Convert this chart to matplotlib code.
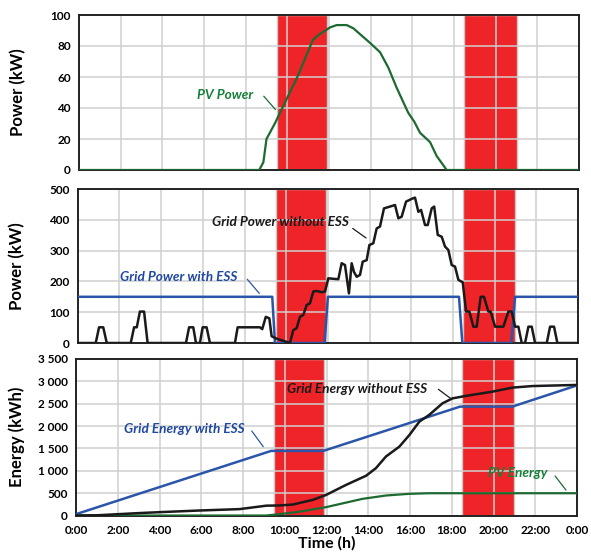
import matplotlib
matplotlib.use('Agg')
import matplotlib.pyplot as plt
from matplotlib.ticker import FuncFormatter, MultipleLocator

plt.rcParams['font.family'] = ['Lato', 'DejaVu Sans']
plt.rcParams['font.weight'] = 'bold'

# peak-shaving windows (hours)
bands = [(9.5, 11.9), (18.5, 21.0)]

# PV power (kW)
pv_t = [0, 8.65, 8.85, 9.0, 9.4, 9.65, 10.48, 11.23, 11.49, 12.05, 12.37, 12.85, 13.17,
        13.97, 14.45, 14.85, 15.25, 15.8, 16.1, 16.37, 16.85, 17.17, 17.65, 24]
pv_kw = [0, 0, 5, 20, 30, 37, 60, 84, 87, 92, 93.5, 93.5, 91.4,
         82, 76, 66, 53, 37, 31, 24, 18, 9, 0, 0]

# grid power with ESS (kW)
ess_t = [0, 9.33, 9.46, 11.84, 12.0, 18.29, 18.45, 20.8, 20.98, 24]
ess_kw = [150, 150, 0, 0, 150, 150, 0, 0, 150, 150]

# grid power without ESS (kW)
noess_t = [0, 0.86, 1.02, 1.22, 1.39, 2.54, 2.70, 2.83, 2.98, 3.18, 3.35,
           5.19, 5.34, 5.54, 5.67, 5.86, 5.99, 6.18, 6.34, 7.54, 7.67, 8.74, 8.85,
           9.02, 9.19, 9.30, 9.51, 10.18, 10.34, 10.50, 10.66, 10.82, 10.98, 11.14,
           11.30, 11.46, 11.70, 11.86, 12.02, 12.50, 12.66, 12.82, 13.01, 13.14,
           13.25, 13.38, 13.54, 13.67, 13.86, 13.99, 14.18, 14.34, 14.50, 14.69,
           14.98, 15.22, 15.38, 15.54, 15.75, 16.02, 16.18, 16.34, 16.47, 16.66,
           16.79, 16.98, 17.10, 17.27, 17.46, 17.62, 17.78, 17.94, 18.10, 18.26,
           18.47, 18.63, 18.79, 18.98, 19.14, 19.33, 19.49, 19.70, 19.81, 20.02,
           20.42, 20.66, 20.82, 20.98, 21.14, 21.30, 21.46, 21.62, 21.78, 21.94,
           22.50, 22.66, 22.85, 23.01, 24]
noess_kw = [0, 0, 51, 51, 0, 0, 51, 51, 102, 102, 0,
            0, 51, 51, 0, 0, 51, 51, 0, 0, 51, 51, 45,
            85, 80, 22, 15, 0, 42, 48, 85, 91, 123, 129,
            167, 169, 165, 167, 210, 207, 259, 253, 161, 259,
            231, 215, 221, 264, 269, 318, 324, 372, 378, 437,
            443, 448, 405, 410, 459, 468, 472, 426, 432, 383,
            383, 437, 443, 351, 345, 313, 302, 253, 248, 205,
            197, 102, 102, 53, 53, 150, 150, 102, 102, 53,
            53, 102, 102, 53, 53, 0, 0, 53, 53, 0,
            0, 53, 53, 0, 0]

# energies (kWh)
e_ess_t = [0, 9.35, 11.85, 18.4, 20.9, 24]
e_ess = [30, 1445, 1445, 2435, 2435, 2910]

e_noess_t = [0, 1.0, 3.06, 4.02, 5.93, 7.84, 9.12, 9.75, 10.39, 10.7, 11.35, 11.98,
             12.94, 13.9, 14.37, 14.85, 15.49, 15.97, 16.45, 16.92, 17.56, 18.04,
             18.68, 19.95, 20.9, 21.86, 24]
e_noess = [0, 5, 55, 75, 112, 143, 220, 225, 245, 280, 350, 460,
           685, 890, 1060, 1320, 1540, 1800, 2100, 2250, 2510, 2620,
           2675, 2770, 2860, 2895, 2920]

e_pv_t = [0, 9.1, 9.75, 10.7, 11.98, 13.73, 14.85, 15.97, 16.92, 24]
e_pv = [0, 0, 30, 85, 187, 373, 447, 485, 498, 498]

hour_ticks = list(range(0, 25, 2))
hour_labels = ['%d:00' % (h % 24) for h in hour_ticks]

RED = '#EE2428'
GREEN = '#1D6A31'
GREEN_TXT = '#17803A'
BLUE = '#2B55A8'
BLUE_TXT = '#1F48A0'
BLACK = '#1A1A1A'
ANN = 9.8

fig = plt.figure(figsize=(5.91, 5.55), dpi=100)
ax1 = fig.add_axes([79 / 591, 1 - 170 / 555, 500 / 591, 155 / 555])
ax2 = fig.add_axes([77.8 / 591, 1 - 343 / 555, 500.2 / 591, 154 / 555])
ax3 = fig.add_axes([76 / 591, 1 - 515.5 / 555, 501 / 591, 156.5 / 555])


def style(ax, ymax, ystep):
    ax.set_xlim(0, 24)
    ax.set_ylim(0, ymax)
    ax.set_xticks(hour_ticks)
    ax.yaxis.set_major_locator(MultipleLocator(ystep))
    ax.set_axisbelow(True)
    ax.grid(True, color='#D0D0D0', lw=1.1)
    for a, b in bands:
        ax.axvspan(a, b, facecolor=RED, edgecolor='#C8C8C8', lw=1, zorder=0.2)
    for s in ax.spines.values():
        s.set_color('#222222')
        s.set_linewidth(1.4)
    ax.tick_params(length=0, labelsize=8.5, pad=6)
    ax.yaxis.set_label_coords(-0.105, 0.5)


style(ax1, 100, 20)
ax1.plot(pv_t, pv_kw, color=GREEN, lw=1.6, zorder=3)
ax1.set_xticklabels([])
ax1.set_ylabel('Power (kW)', fontsize=12, fontweight='bold')
ax1.text(7.03, 48.2, 'PV Power', color=GREEN_TXT, fontsize=ANN, style='italic',
         fontweight='bold', ha='center', va='center')
ax1.annotate('', xy=(9.43, 39), xytext=(8.87, 47.6),
             arrowprops=dict(arrowstyle='-', color=GREEN, lw=0.9, shrinkA=0, shrinkB=0))

style(ax2, 500, 100)
ax2.plot(ess_t, ess_kw, color=BLUE, lw=1.8, zorder=3)
ax2.plot(noess_t, noess_kw, color=BLACK, lw=1.8, zorder=4)
ax2.set_xticklabels([])
ax2.set_ylabel('Power (kW)', fontsize=12, fontweight='bold')
ax2.text(9.7, 394, 'Grid Power without ESS', color=BLACK, fontsize=ANN, style='italic',
         fontweight='bold', ha='center', va='center')
ax2.annotate('', xy=(13.83, 341), xytext=(13.19, 372),
             arrowprops=dict(arrowstyle='-', color=BLACK, lw=0.9, shrinkA=0, shrinkB=0))
ax2.text(4.83, 215, 'Grid Power with ESS', color=BLUE_TXT, fontsize=ANN, style='italic',
         fontweight='bold', ha='center', va='center')
ax2.annotate('', xy=(8.71, 161), xytext=(8.13, 207),
             arrowprops=dict(arrowstyle='-', color=BLUE, lw=0.9, shrinkA=0, shrinkB=0))

style(ax3, 3500, 500)
ax3.plot(e_pv_t, e_pv, color=GREEN, lw=1.6, zorder=3)
ax3.plot(e_ess_t, e_ess, color=BLUE, lw=1.8, zorder=4)
ax3.plot(e_noess_t, e_noess, color=BLACK, lw=1.8, zorder=5)
ax3.set_xticklabels(hour_labels)
ax3.tick_params(axis='x', pad=7)
ax3.yaxis.set_major_formatter(FuncFormatter(lambda v, p: f'{v:,.0f}'.replace(',', ' ')))
ax3.set_ylabel('Energy (kWh)', fontsize=12, fontweight='bold')
ax3.yaxis.set_label_coords(-0.102, 0.5)
ax3.set_xlabel('Time (h)', fontsize=11.5, fontweight='bold', labelpad=0)
ax3.text(5.17, 1928, 'Grid Energy with ESS', color=BLUE_TXT, fontsize=ANN, style='italic',
         fontweight='bold', ha='center', va='center')
ax3.annotate('', xy=(8.97, 1539), xytext=(8.42, 1890),
             arrowprops=dict(arrowstyle='-', color=BLUE, lw=0.9, shrinkA=0, shrinkB=0))
ax3.text(13.45, 2822, 'Grid Energy without ESS', color=BLACK, fontsize=ANN, style='italic',
         fontweight='bold', ha='center', va='center')
ax3.annotate('', xy=(18.0, 2599), xytext=(17.36, 2822),
             arrowprops=dict(arrowstyle='-', color=BLACK, lw=0.9, shrinkA=0, shrinkB=0))
ax3.text(21.17, 960, 'PV Energy', color=GREEN_TXT, fontsize=ANN, style='italic',
         fontweight='bold', ha='center', va='center')
ax3.annotate('', xy=(23.47, 570), xytext=(22.95, 883),
             arrowprops=dict(arrowstyle='-', color=GREEN, lw=0.9, shrinkA=0, shrinkB=0))

fig.savefig('out.png', dpi=100)
